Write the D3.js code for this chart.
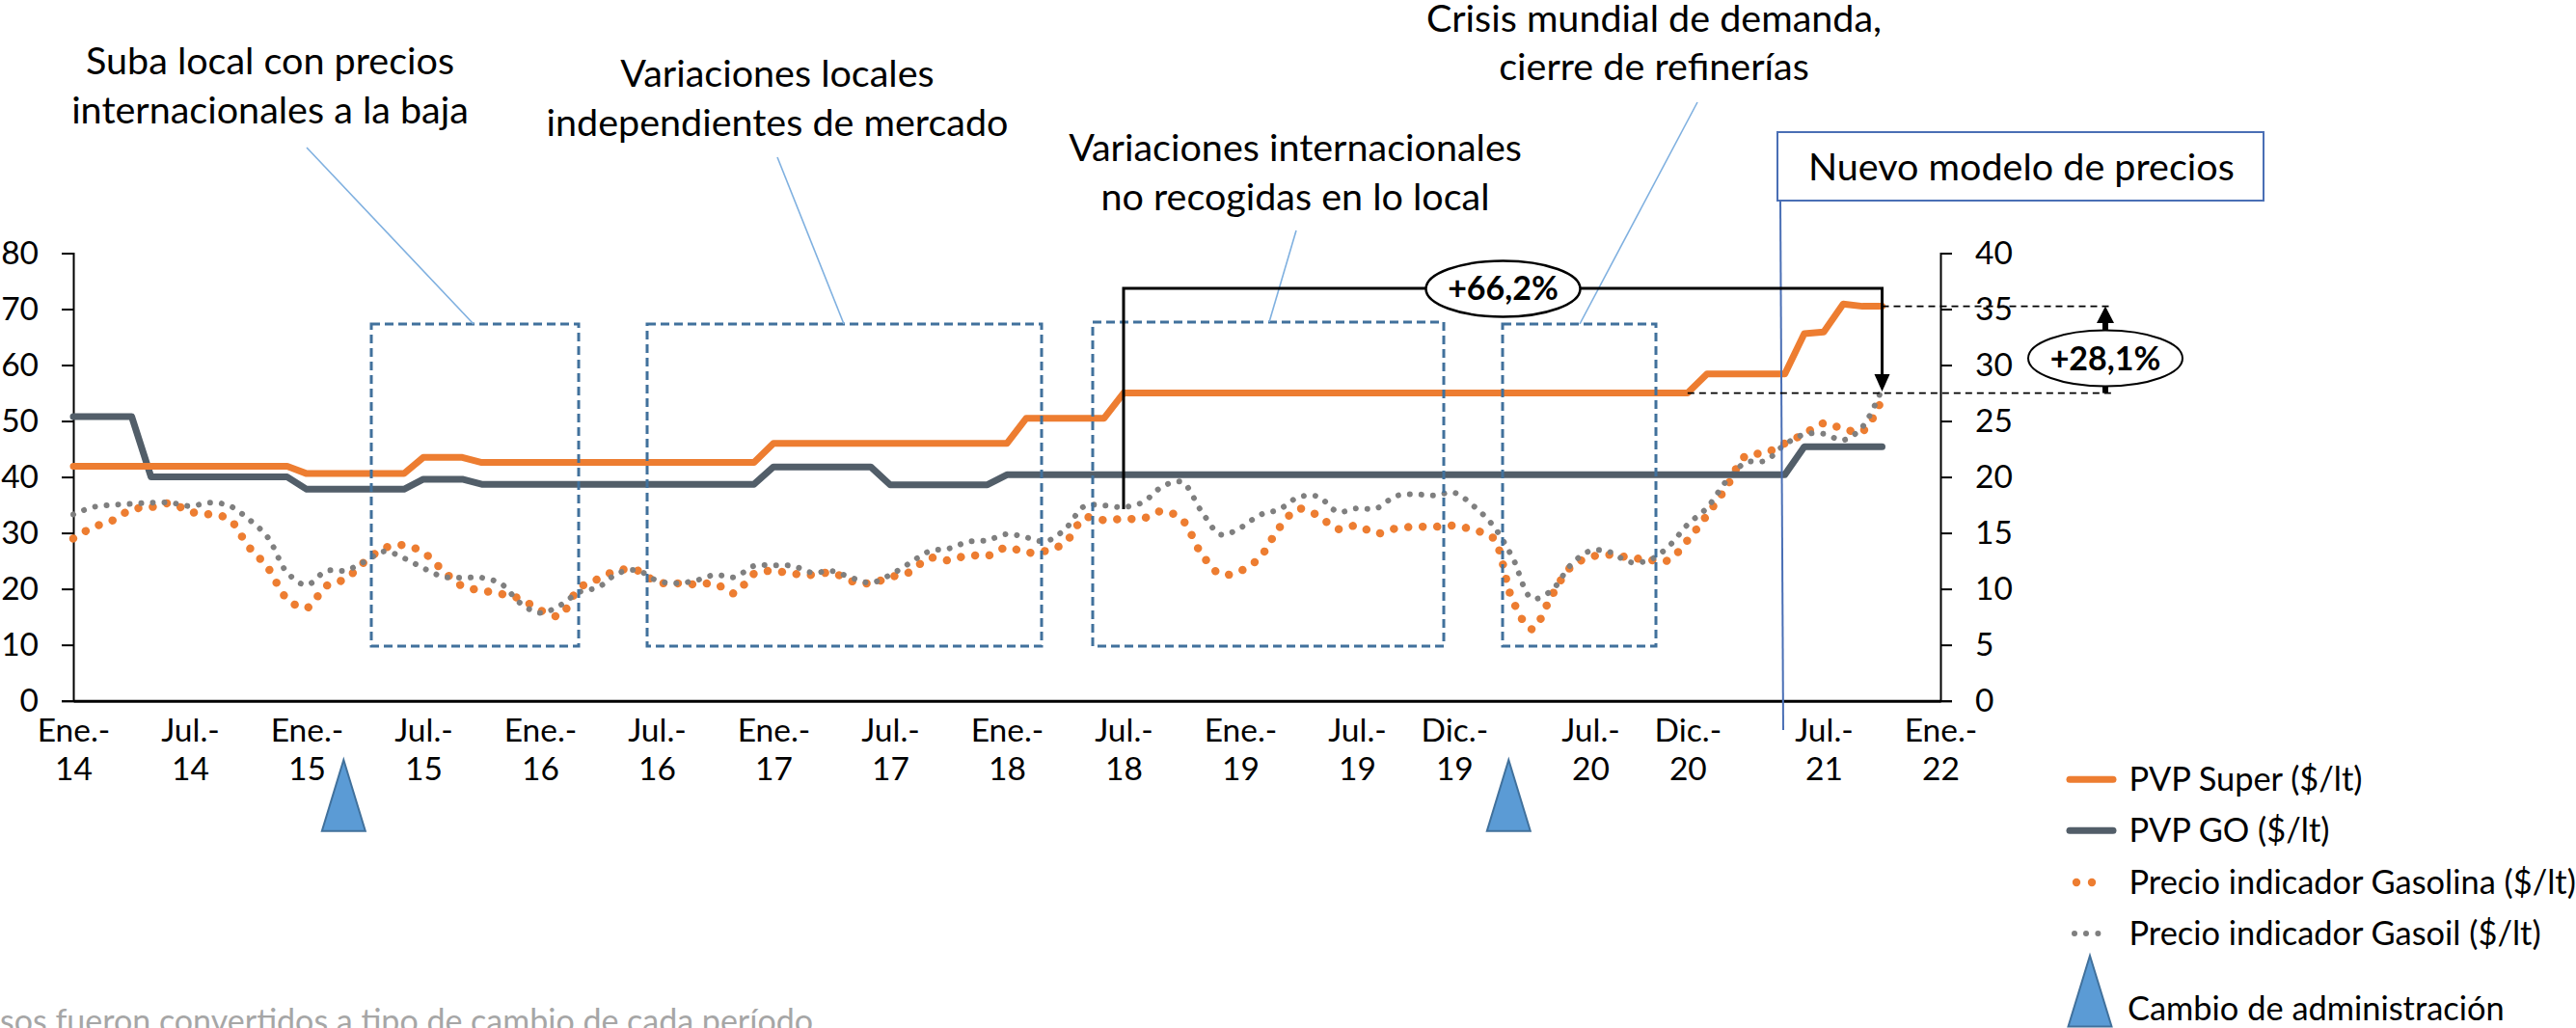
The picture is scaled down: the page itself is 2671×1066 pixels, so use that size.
<!DOCTYPE html>
<html>
<head>
<meta charset="utf-8">
<script src="https://cdn.jsdelivr.net/npm/d3@7"></script>
<style>
    html, body { margin: 0; padding: 0; background: #fff; overflow: hidden; }
    svg { display: block; }
    text { font-family: Lato, "Open Sans", sans-serif; fill: #000; }
</style>
</head>
<body>
<div id="chart"></div>
<script>
// monthly values, month 0 = Ene-14
const pvpSuper = [
    41.9, 41.9, 41.9, 41.9, 41.9, 41.9, 41.9, 41.9, 41.9, 41.9, 41.9, 41.9,
    40.6, 40.6, 40.6, 40.6, 40.6, 40.6, 43.5, 43.5, 43.5, 42.6, 42.6, 42.6,
    42.6, 42.6, 42.6, 42.6, 42.6, 42.6, 42.6, 42.6, 42.6, 42.6, 42.6, 42.6,
    46.0, 46.0, 46.0, 46.0, 46.0, 46.0, 46.0, 46.0, 46.0, 46.0, 46.0, 46.0,
    46.0, 50.5, 50.5, 50.5, 50.5, 50.5, 55.0, 55.0, 55.0, 55.0, 55.0, 55.0,
    55.0, 55.0, 55.0, 55.0, 55.0, 55.0, 55.0, 55.0, 55.0, 55.0, 55.0, 55.0,
    55.0, 55.0, 55.0, 55.0, 55.0, 55.0, 55.0, 55.0, 55.0, 55.0, 55.0, 55.0,
    58.4, 58.4, 58.4, 58.4, 58.4, 65.6, 65.9, 70.9, 70.5, 70.5
];
const pvpGO = [
    50.8, 50.8, 50.8, 50.8, 40.0, 40.0, 40.0, 40.0, 40.0, 40.0, 40.0, 40.0,
    37.8, 37.8, 37.8, 37.8, 37.8, 37.8, 39.6, 39.6, 39.6, 38.7, 38.7, 38.7,
    38.7, 38.7, 38.7, 38.7, 38.7, 38.7, 38.7, 38.7, 38.7, 38.7, 38.7, 38.7,
    41.8, 41.8, 41.8, 41.8, 41.8, 41.8, 38.6, 38.6, 38.6, 38.6, 38.6, 38.6,
    40.4, 40.4, 40.4, 40.4, 40.4, 40.4, 40.4, 40.4, 40.4, 40.4, 40.4, 40.4,
    40.4, 40.4, 40.4, 40.4, 40.4, 40.4, 40.4, 40.4, 40.4, 40.4, 40.4, 40.4,
    40.4, 40.4, 40.4, 40.4, 40.4, 40.4, 40.4, 40.4, 40.4, 40.4, 40.4, 40.4,
    40.4, 40.4, 40.4, 40.4, 40.4, 45.4, 45.4, 45.4, 45.4, 45.4
];
const indicadorGasolina = [
    29.0, 31.0, 32.2, 34.2, 34.6, 35.3, 33.8, 33.3, 32.5, 27.6, 23.8, 18.2,
    16.6, 20.5, 21.8, 24.9, 27.3, 27.8, 26.5, 23.3, 20.5, 19.7, 19.1, 18.2,
    16.2, 15.2, 20.1, 21.8, 23.3, 23.3, 21.2, 21.0, 20.8, 20.9, 19.2, 22.7,
    23.2, 22.7, 22.5, 22.9, 21.4, 21.0, 22.1, 23.0, 25.5, 25.1, 26.0, 25.9,
    27.4, 26.5, 26.8, 28.3, 32.7, 32.3, 32.5, 32.6, 33.9, 32.4, 26.3, 22.6,
    23.2, 25.6, 30.9, 34.3, 33.1, 30.7, 31.3, 29.9, 30.8, 31.1, 31.1, 31.3,
    30.5, 29.1, 18.0, 12.8, 18.7, 23.9, 25.7, 26.1, 25.6, 25.2, 25.1, 28.7,
    33.2, 38.2, 43.8, 44.3, 46.0, 47.7, 49.6, 48.6, 48.2, 54.0
];
const indicadorGasoil = [
    33.3, 34.6, 35.0, 35.2, 35.4, 35.4, 34.8, 35.4, 34.9, 32.5, 29.2, 22.9,
    20.7, 23.2, 23.3, 24.9, 26.7, 25.5, 23.7, 22.2, 22.0, 22.0, 20.9, 17.4,
    15.7, 17.0, 19.4, 20.3, 22.8, 23.3, 21.5, 21.0, 21.5, 22.5, 22.1, 24.1,
    24.2, 24.1, 22.9, 23.2, 22.0, 21.1, 22.5, 24.6, 26.7, 27.2, 28.4, 28.7,
    29.8, 29.2, 28.5, 30.7, 34.8, 34.9, 34.6, 35.5, 38.3, 39.1, 33.9, 29.7,
    30.9, 33.2, 34.2, 36.4, 36.5, 33.8, 34.4, 34.4, 36.6, 36.9, 36.7, 37.2,
    34.8, 31.3, 25.6, 18.3, 19.7, 24.3, 26.8, 26.6, 24.8, 25.1, 27.5, 31.5,
    34.5, 39.3, 42.6, 42.9, 45.8, 47.6, 47.7, 46.6, 49.0, 55.8
];

// label ticks, not evenly spaced at the end (Dic. months)
const tickMonths = [0, 6, 12, 18, 24, 30, 36, 42, 48, 54, 60, 66, 71, 78, 83, 90, 96];
const tickLabels = [
    ["Ene.-", "14"], ["Jul.-", "14"], ["Ene.-", "15"], ["Jul.-", "15"], ["Ene.-", "16"], ["Jul.-", "16"],
    ["Ene.-", "17"], ["Jul.-", "17"], ["Ene.-", "18"], ["Jul.-", "18"], ["Ene.-", "19"], ["Jul.-", "19"],
    ["Dic.-", "19"], ["Jul.-", "20"], ["Dic.-", "20"], ["Jul.-", "21"], ["Ene.-", "22"]
];
const leftTicks = [0, 10, 20, 30, 40, 50, 60, 70, 80];
const rightTicks = [0, 5, 10, 15, 20, 25, 30, 35, 40];

const adminChanges = [13.9, 73.8];  // months where the triangles sit

const width = 2671, height = 1066;
const fontSize = 33.5;
const bigFont = 39.5;

const svg = d3.select("#chart").append("svg")
    .attr("width", width)
    .attr("height", height);

const x = d3.scaleLinear().domain([0, 96]).range([76, 2012]);
const y = d3.scaleLinear().domain([0, 80]).range([726.7, 262.5]);
const yRight = d3.scaleLinear().domain([0, 40]).range([726.7, 262.5]);

// axes
let axisLeft = svg.append("g")
    .attr("transform", `translate(${x(0)},0)`)
    .call(d3.axisLeft(y).tickValues(leftTicks).tickSize(12).tickPadding(24));
let axisRight = svg.append("g")
    .attr("transform", `translate(${x(96)},0)`)
    .call(d3.axisRight(yRight).tickValues(rightTicks).tickSize(12).tickPadding(24));
[axisLeft, axisRight].forEach((a) => {
    a.selectAll("text").style("font-size", fontSize + "px").attr("font-family", null);
    a.selectAll("line").attr("stroke", "#000").attr("stroke-width", 2);
    a.select(".domain").attr("stroke", "#000").attr("stroke-width", 2);
});

let axisBottom = svg.append("g")
    .attr("transform", `translate(0,${y(0)})`)
    .call(d3.axisBottom(x).tickValues(tickMonths).tickSize(0).tickFormat(""));
axisBottom.select(".domain").attr("stroke", "#000").attr("stroke-width", 3);
axisBottom.selectAll(".tick text").remove();
axisBottom.selectAll(".tick").each(function(d, i) {
    let t = d3.select(this).append("text")
        .attr("text-anchor", "middle")
        .style("font-size", fontSize + "px");
    t.append("tspan").attr("x", 0).attr("y", 42).text(tickLabels[i][0]);
    t.append("tspan").attr("x", 0).attr("y", 82).text(tickLabels[i][1]);
});

// series
const line = d3.line().x((d, i) => x(i)).y((d) => y(d));
const smooth = d3.line().x((d, i) => x(i)).y((d) => y(d)).curve(d3.curveCatmullRom.alpha(0.5));

svg.append("path").datum(indicadorGasolina)
    .attr("d", smooth).attr("fill", "none")
    .attr("stroke", "#ED7D31").attr("stroke-width", 8.5)
    .attr("stroke-linecap", "round").attr("stroke-dasharray", "0.01 15");
svg.append("path").datum(indicadorGasoil)
    .attr("d", smooth).attr("fill", "none")
    .attr("stroke", "#7F7F7F").attr("stroke-width", 6)
    .attr("stroke-linecap", "round").attr("stroke-dasharray", "0.01 12");
svg.append("path").datum(pvpGO)
    .attr("d", line).attr("fill", "none")
    .attr("stroke", "#525E69").attr("stroke-width", 7)
    .attr("stroke-linecap", "round").attr("stroke-linejoin", "round");
svg.append("path").datum(pvpSuper)
    .attr("d", line).attr("fill", "none")
    .attr("stroke", "#ED7D31").attr("stroke-width", 7)
    .attr("stroke-linecap", "round").attr("stroke-linejoin", "round");

// dashed period boxes + leader lines + captions
const boxes = [
    {x0: 385, x1: 600, top: 336, leader: [318, 153, 491, 336]},
    {x0: 671, x1: 1080, top: 336, leader: [806, 163, 875, 336]},
    {x0: 1133, x1: 1497, top: 334, leader: [1344, 239, 1316, 334]},
    {x0: 1558, x1: 1717, top: 336, leader: [1760, 106, 1638, 336]}
];
boxes.forEach((b) => {
    svg.append("rect")
        .attr("x", b.x0).attr("y", b.top)
        .attr("width", b.x1 - b.x0).attr("height", 670 - b.top)
        .attr("fill", "none").attr("stroke", "#41719C")
        .attr("stroke-width", 3).attr("stroke-dasharray", "9 5");
    svg.append("line")
        .attr("x1", b.leader[0]).attr("y1", b.leader[1])
        .attr("x2", b.leader[2]).attr("y2", b.leader[3])
        .attr("stroke", "#7FB0E0").attr("stroke-width", 1.6);
});

const captions = [
    {cx: 280, y: 77, text: "Suba local con precios"},
    {cx: 280, y: 128, text: "internacionales a la baja"},
    {cx: 806, y: 90, text: "Variaciones locales"},
    {cx: 806, y: 141, text: "independientes de mercado"},
    {cx: 1343, y: 167, text: "Variaciones internacionales"},
    {cx: 1343, y: 218, text: "no recogidas en lo local"},
    {cx: 1715, y: 33, text: "Crisis mundial de demanda,"},
    {cx: 1715, y: 83, text: "cierre de refinerías"}
];
svg.selectAll(".caption").data(captions).enter().append("text")
    .attr("class", "caption")
    .attr("x", (d) => d.cx).attr("y", (d) => d.y)
    .attr("text-anchor", "middle")
    .style("font-size", bigFont + "px")
    .text((d) => d.text);

// nuevo modelo box
svg.append("line")
    .attr("x1", 1846).attr("y1", 208).attr("x2", 1849).attr("y2", 757)
    .attr("stroke", "#4A6FB5").attr("stroke-width", 2);
svg.append("rect")
    .attr("x", 1843).attr("y", 137).attr("width", 504).attr("height", 71)
    .attr("fill", "#fff").attr("stroke", "#4A6FB5").attr("stroke-width", 2);
svg.append("text")
    .attr("x", 1875).attr("y", 187)
    .style("font-size", bigFont + "px")
    .text("Nuevo modelo de precios");

// +66,2% bracket
const bracketY = 299;
svg.append("path")
    .attr("d", `M${x(54)},528 V${bracketY} H${x(93)} V392`)
    .attr("fill", "none").attr("stroke", "#000").attr("stroke-width", 3);
svg.append("path")
    .attr("d", `M${x(93) - 8},388 H${x(93) + 8} L${x(93)},406 Z`)
    .attr("fill", "#000");
svg.append("ellipse")
    .attr("cx", 1558.5).attr("cy", bracketY + 0.5).attr("rx", 80).attr("ry", 29)
    .attr("fill", "#fff").attr("stroke", "#000").attr("stroke-width", 2.5);
svg.append("text")
    .attr("x", 1558.5).attr("y", bracketY + 12)
    .attr("text-anchor", "middle").attr("font-weight", "bold")
    .style("font-size", "34px")
    .text("+66,2%");

// +28,1% between Super now and Super before the new model
[[x(93), y(70.5)], [x(83), y(55)]].forEach((p) => {
    svg.append("line")
        .attr("x1", p[0]).attr("y1", p[1]).attr("x2", 2191).attr("y2", p[1])
        .attr("stroke", "#000").attr("stroke-width", 1.8).attr("stroke-dasharray", "7 5");
});
svg.append("line")
    .attr("x1", 2183).attr("y1", y(55)).attr("x2", 2183).attr("y2", 330)
    .attr("stroke", "#000").attr("stroke-width", 6);
svg.append("path")
    .attr("d", `M2183,${y(70.5)} L2192,335 H2174 Z`)
    .attr("fill", "#000");
svg.append("ellipse")
    .attr("cx", 2183).attr("cy", 371.5).attr("rx", 80).attr("ry", 29)
    .attr("fill", "#fff").attr("stroke", "#000").attr("stroke-width", 2);
svg.append("text")
    .attr("x", 2183).attr("y", 383.5)
    .attr("text-anchor", "middle").attr("font-weight", "bold")
    .style("font-size", "34px")
    .text("+28,1%");

// triangles under the axis
const triangle = (cx, top, bottom, half) => `M${cx},${top} L${cx + half},${bottom} H${cx - half} Z`;
adminChanges.forEach((m) => {
    svg.append("path")
        .attr("d", triangle(x(m), 788, 861.7, 22.5))
        .attr("fill", "#5B9BD5").attr("stroke", "#41719C").attr("stroke-width", 2);
});

// legend
const legendItems = [
    {label: "PVP Super ($/lt)", y: 820, mark: 808.3},
    {label: "PVP GO ($/lt)", y: 873, mark: 861.3},
    {label: "Precio indicador Gasolina ($/lt)", y: 927, mark: 915},
    {label: "Precio indicador Gasoil ($/lt)", y: 980, mark: 968},
    {label: "Cambio de administración", y: 1058, mark: null}
];
svg.selectAll(".legend").data(legendItems).enter().append("text")
    .attr("class", "legend")
    .attr("x", (d, i) => i == 4 ? 2206 : 2207.5).attr("y", (d) => d.y)
    .style("font-size", "34.4px")
    .text((d) => d.label);
[["#ED7D31", 808.3], ["#525E69", 861.3]].forEach((s) => {
    svg.append("line")
        .attr("x1", 2146).attr("x2", 2191).attr("y1", s[1]).attr("y2", s[1])
        .attr("stroke", s[0]).attr("stroke-width", 7).attr("stroke-linecap", "round");
});
[2153, 2169].forEach((cx) => {
    svg.append("circle").attr("cx", cx).attr("cy", 915).attr("r", 4.2).attr("fill", "#ED7D31");
});
[2151, 2163, 2175.4].forEach((cx) => {
    svg.append("circle").attr("cx", cx).attr("cy", 968).attr("r", 3).attr("fill", "#7F7F7F");
});
svg.append("path")
    .attr("d", triangle(2167, 991, 1064.5, 22.5))
    .attr("fill", "#5B9BD5").attr("stroke", "#41719C").attr("stroke-width", 2);

// footnote, cut by the bottom and left edges in the reference
svg.append("text")
    .attr("x", 843).attr("y", 1071)
    .attr("text-anchor", "end")
    .style("font-size", "34px").style("fill", "#A6A6A6")
    .text("sos fueron convertidos a tipo de cambio de cada período");
</script>
</body>
</html>
